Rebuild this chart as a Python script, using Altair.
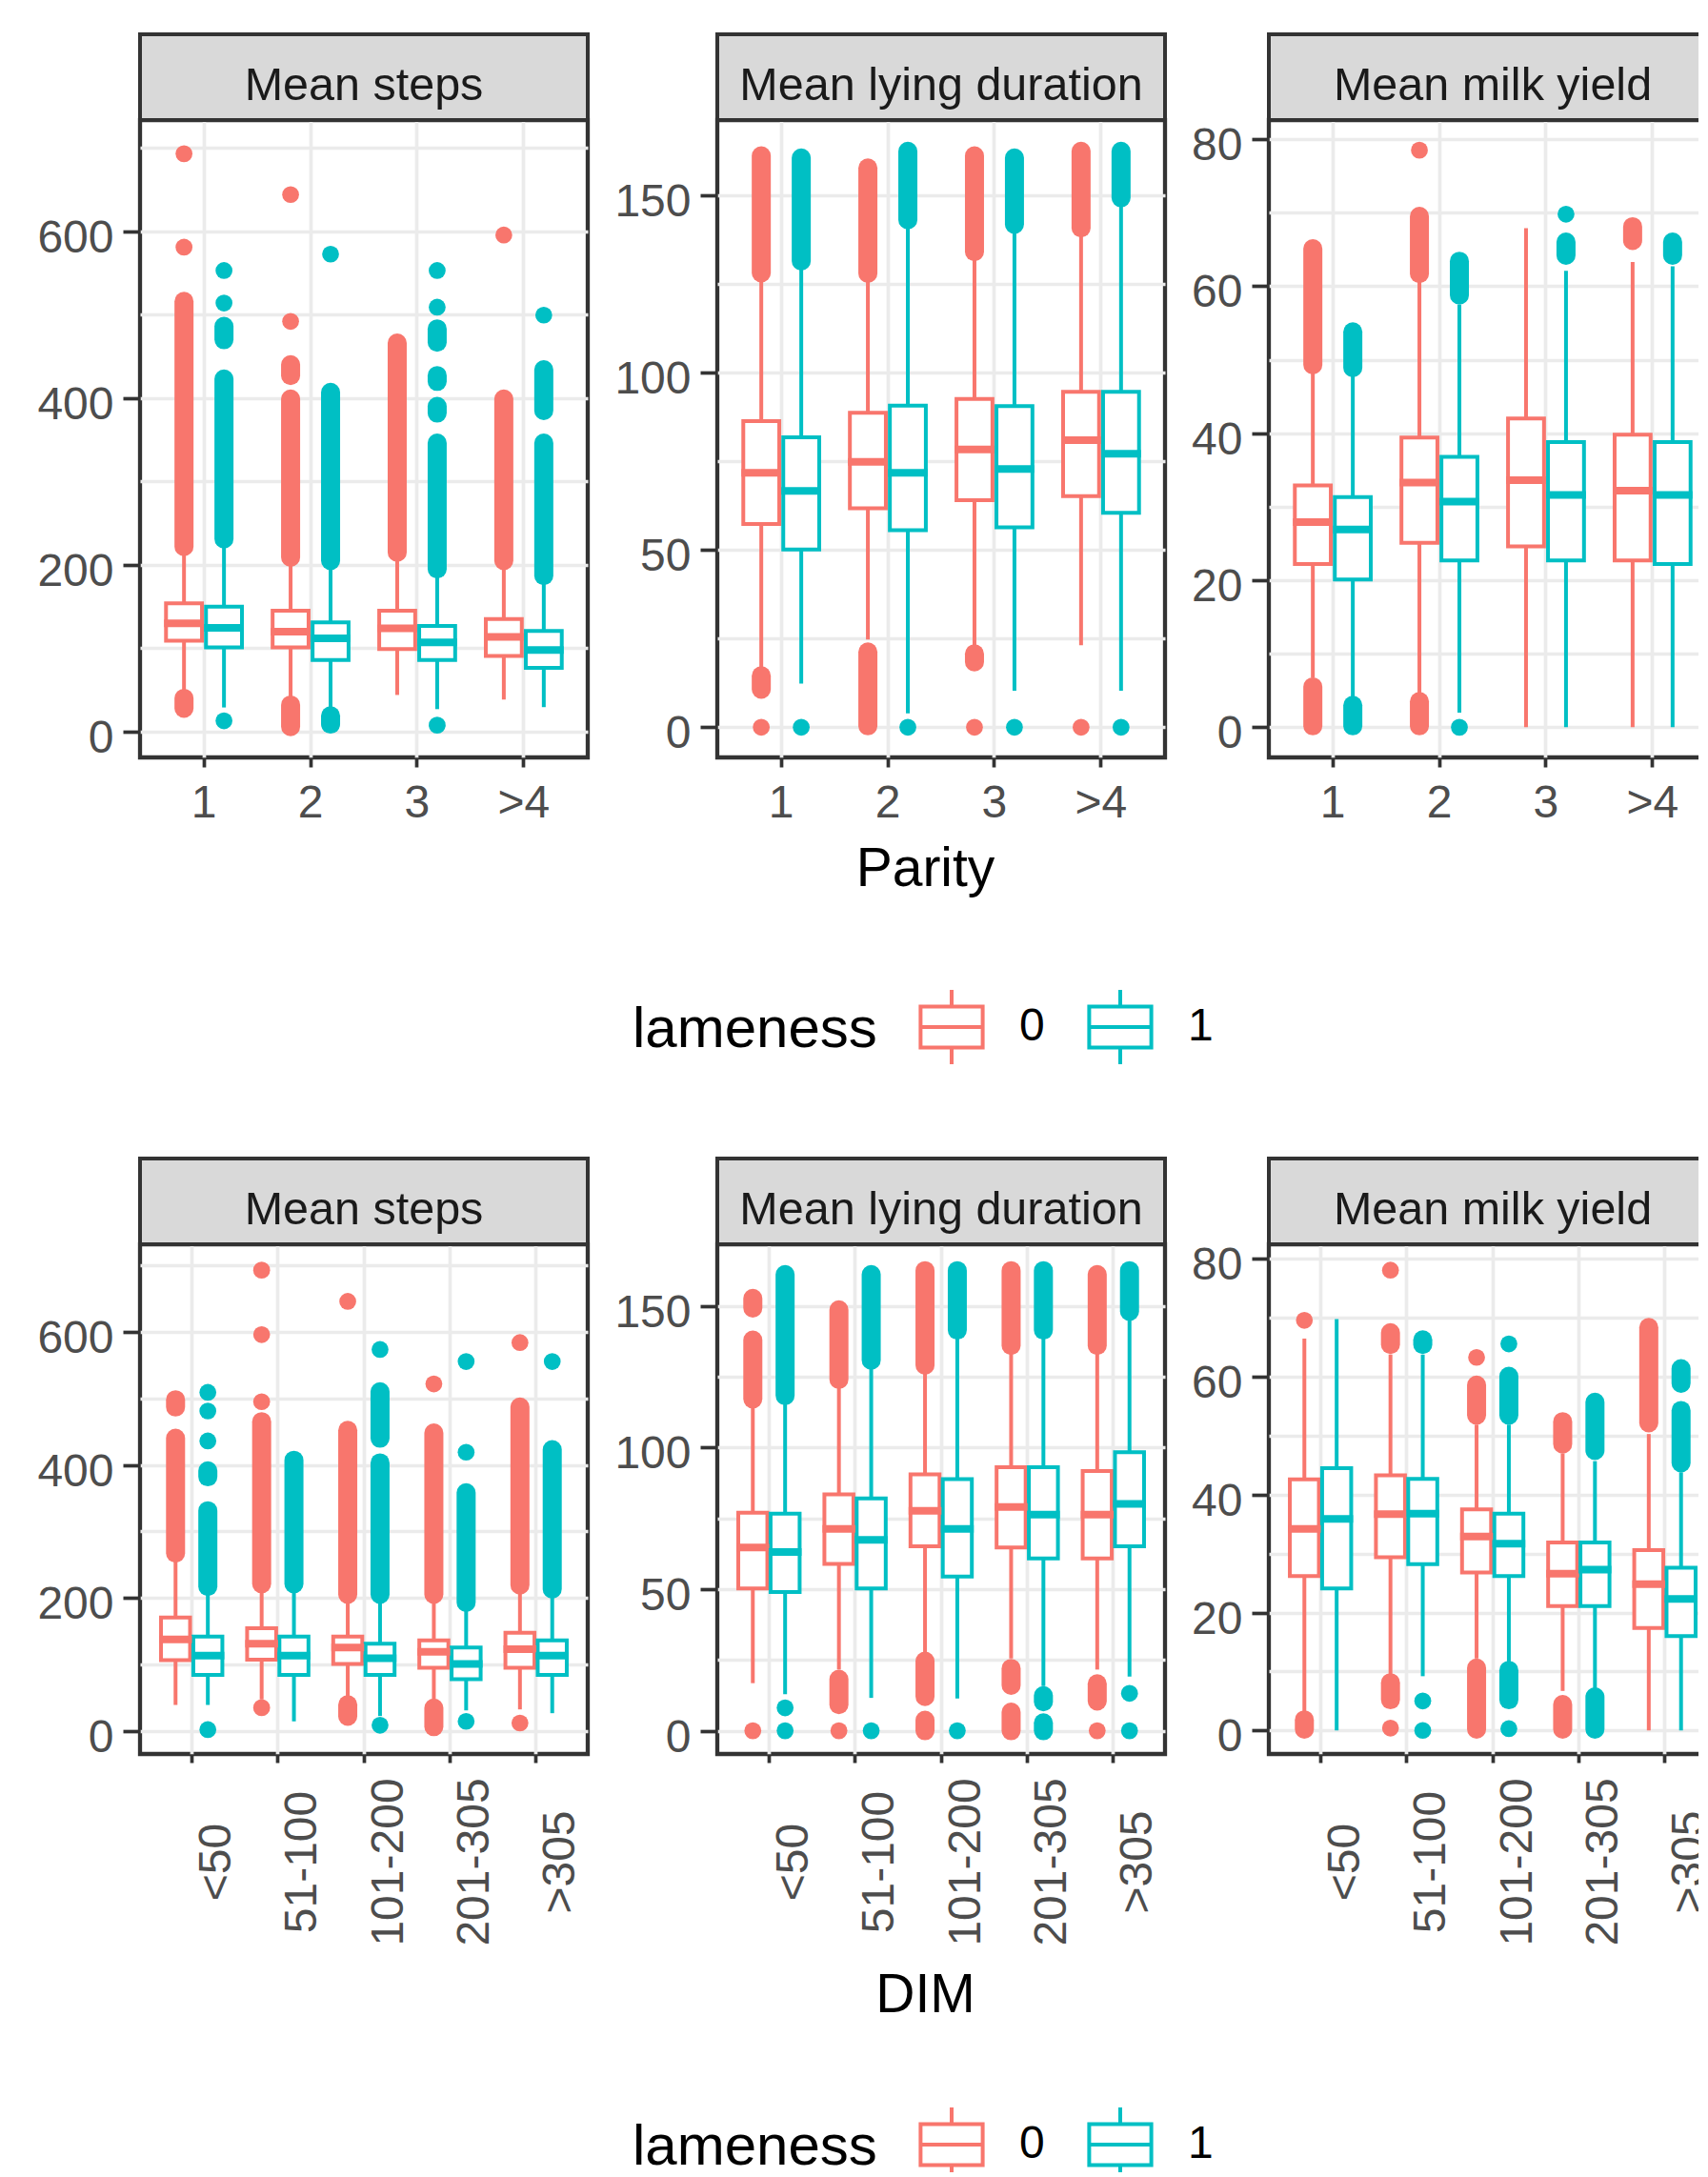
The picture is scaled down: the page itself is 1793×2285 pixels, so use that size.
import altair as alt
import pandas as pd

# ---------------- data ----------------
PARITY = ["1", "2", "3", ">4"]
DIM = ["<50", "51-100", "101-200", "201-305", ">305"]
LAMENESS = ["0", "1"]
COLORS = ["#F8766D", "#00BFC4"]
PANEL_TITLES = ["Mean steps", "Mean lying duration", "Mean milk yield"]

# order of every list: (cat1, lameness 0), (cat1, lameness 1), (cat2, 0), ...
# ---- Parity: Mean steps
PS_LW = [45, 29, 40, 28, 44, 27, 38.5, 29.4]
PS_Q1 = [109, 101, 101, 86, 99, 86, 90.8, 76.4]
PS_MED = [130, 124.6, 120, 112, 124, 107, 113.6, 98]
PS_Q3 = [154, 150, 145, 131, 145, 126.7, 135, 120.8]
PS_UW = [216, 222, 207, 197, 212, 190, 198, 184]
PS_PTS = [[693, 581], [553, 514, 13], [644, 492], [572.6], [], [553, 509, 7.8], [595.5], [499.5]]
PS_RNG = [[[222, 516], [28, 40]], [[470, 486], [231, 423]], [[427, 440], [209, 399], [6, 32]],
          [[205, 407], [9, 19]], [[215, 466]], [[467, 483], [420, 427], [382, 390], [195, 346]],
          [[205, 399]], [[385, 434], [187, 346]]]
# ---- Parity: Mean lying duration
PL_LW = [17, 12.3, 24.7, 3.9, 23.1, 10.3, 23.1, 10.3]
PL_Q1 = [57.3, 50.1, 61.7, 55.5, 64, 56.3, 65.1, 60.4]
PL_MED = [71.7, 66.6, 74.8, 71.7, 78.3, 72.8, 80.9, 77.1]
PL_Q3 = [86.3, 81.7, 88.6, 90.6, 92.5, 90.5, 94.5, 94.5]
PL_UW = [127, 130, 127, 142, 133, 141, 140, 148]
PL_PTS = [[0], [0], [], [0], [0], [0], [0], [0]]
PL_RNG = [[[128, 161], [10.7, 14.5]], [[131.4, 160.4]], [[127.9, 157.6], [0.4, 21.2]], [[143, 162.3]],
          [[134, 161], [18.4, 20.7]], [[141.7, 160.4]], [[140.7, 162.3]], [[149.2, 162.3]]]
# ---- Parity: Mean milk yield
PM_LW = [6.7, 4.1, 4.6, 2, 0, 0, 0, 0]
PM_Q1 = [22.2, 20.1, 25.1, 22.7, 24.6, 22.7, 22.7, 22.2]
PM_MED = [27.9, 26.9, 33.3, 30.7, 33.6, 31.6, 32.2, 31.6]
PM_Q3 = [32.9, 31.3, 39.4, 36.8, 42, 38.8, 39.8, 38.8]
PM_UW = [49, 48, 61, 57.5, 67.9, 62.1, 63.3, 62.7]
PM_PTS = [[], [], [78.5], [0], [], [69.8], [], []]
PM_RNG = [[[49.3, 65.1], [0.2, 5.5]], [[48.9, 53.8], [0.2, 3]], [[61.7, 69.5], [0.2, 3.5]], [[58.8, 63.4]],
          [], [[64.2, 66]], [[66.2, 68.1]], [[64.2, 66]]]

# ---- DIM: Mean steps
DS_LW = [38.7, 38.7, 47, 14, 42, 22, 47, 30.5, 32, 26.3]
DS_Q1 = [106.2, 84, 107, 84, 100.4, 84, 94.6, 77.4, 94.6, 84]
DS_MED = [137.4, 112.8, 131, 112.8, 125, 109, 118.5, 100.4, 122.6, 112.8]
DS_Q3 = [170.4, 141.6, 154, 141.6, 141.6, 131, 135.8, 125, 147.3, 135.8]
DS_UW = [262, 212, 219, 216, 201, 199, 197, 190, 216, 210]
DS_PTS = [[], [509, 481, 436, 1.6], [693, 596, 495, 34.6], [], [646], [573.6, 8.2], [521.8],
          [555.5, 419, 14], [584, 11.5], [555.5]]
DS_RNG = [[[487, 498], [267, 440]], [[382, 391], [217, 331]], [[221, 465]], [[221, 407]],
          [[205, 452], [21.7, 39]], [[440, 510], [205, 403]], [[205, 448], [6, 34]], [[193, 358]],
          [[219, 487]], [[213, 423]]]
# ---- DIM: Mean lying duration
DL_LW = [16.8, 12.9, 21.6, 11.6, 27.5, 11.4, 25.5, 15.8, 21.6, 19.1]
DL_Q1 = [50.2, 49, 58.9, 50.2, 65.1, 54.4, 64.7, 60.8, 60.8, 65.1]
DL_MED = [64.7, 63.1, 71.2, 67.4, 77.6, 71.2, 79, 76.3, 76.3, 80.1]
DL_Q3 = [77, 76.6, 83.4, 82, 90.5, 88.8, 93, 93, 91.7, 98.3]
DL_UW = [116, 117, 123, 129, 128, 140, 135, 140, 135, 147]
DL_PTS = [[0], [8.1, 0], [0], [0], [], [0], [], [], [0], [13.2, 0]]
DL_RNG = [[[149.2, 152.6], [117.1, 137.9]], [[118.3, 161]], [[124, 148.6], [9.2, 18.2]], [[130.8, 161]],
          [[129, 162.4], [12.1, 24.6], [0, 3.7]], [[141.4, 162.4]], [[136, 162.4], [16, 22], [0, 6.6]],
          [[141.4, 162.4], [10.2, 12.4], [0, 2.8]], [[136, 161], [10.5, 16.6]], [[148, 162.4]]]
# ---- DIM: Mean milk yield
DM_LW = [3, 0, 9.5, 9.2, 12.2, 11.3, 6.7, 7.1, 0, 0]
DM_Q1 = [26.2, 24.1, 29.4, 28.2, 26.8, 26.2, 21.1, 21.1, 17.4, 16]
DM_MED = [34.2, 35.9, 36.7, 36.8, 32.9, 31.7, 26.6, 27.3, 24.8, 22.3]
DM_Q3 = [42.6, 44.5, 43.3, 42.7, 37.5, 36.8, 31.9, 31.9, 30.6, 27.6]
DM_UW = [66.5, 69.8, 63.8, 63.8, 51.9, 51.9, 47, 45.7, 50.3, 43.8]
DM_PTS = [[69.6], [], [78.1, 0.4], [5, 0], [63.3], [65.6, 0.3], [], [], [], []]
DM_RNG = [[[0.2, 1.8]], [], [[65.5, 67.5], [5.2, 8.1]], [[65.5, 66.3]], [[53.5, 58.6], [0.2, 10.6]],
          [[53.5, 60.1], [5.2, 10.2]], [[48.6, 52.4], [0.2, 4.4]], [[47.5, 55.7], [0.2, 5.7]],
          [[52.2, 68.4]], [[58.9, 61.4], [45.4, 54.3]]]

# y-axis grid values
STEPS_TICKS = [0, 100, 200, 300, 400, 500, 600, 700]
LYING_TICKS = [0, 25, 50, 75, 100, 125, 150]
MILK_TICKS = [0, 10, 20, 30, 40, 50, 60, 70, 80]

# ---------------- styling ----------------
FONT = "Liberation Sans"
W = 470
H1 = 669
H2 = 535
STRIP = 90
BOX_PATH = ("M-0.836,-0.554 L0.836,-0.554 L0.836,0.554 L-0.836,0.554 Z "
            "M-0.836,0 L0.836,0 M0,-0.554 L0,-1 M0,0.554 L0,1")


def make_legend(ly):
    return alt.Legend(
        title="lameness", orient="none", legendX=517, legendY=ly, direction="horizontal",
        titleOrient="left", titleAnchor="middle", titleBaseline="middle", titleFont=FONT,
        titleFontSize=60, titleFontWeight="normal", titleColor="black", titlePadding=37,
        titleLimit=500, labelFont=FONT, labelFontSize=48, labelColor="black", labelOffset=30,
        columnPadding=38, symbolType=BOX_PATH, symbolSize=6084, symbolStrokeWidth=4,
        symbolFillColor="white", padding=0,
    )


def panel(cats, stats, domain, ticks_all, major, title, height, rotated, xtitle, ly):
    lw, q1, med, q3, uw, pts, rng = stats
    keys = [(c, l) for c in cats for l in LAMENESS]
    cat = [k[0] for k in keys]
    lam = [k[1] for k in keys]
    box = pd.DataFrame({"cat": cat, "lam": lam, "q1": q1, "med": med, "q3": q3})
    whisk = pd.DataFrame({"cat": cat * 2, "lam": lam * 2,
                          "lo": list(lw) + list(q3), "hi": list(q1) + list(uw)})
    points = pd.DataFrame([(c, l, v) for (c, l), vs in zip(keys, pts) for v in vs],
                          columns=["cat", "lam", "v"])
    ranges = pd.DataFrame([(c, l, a, b) for (c, l), rs in zip(keys, rng) for a, b in rs],
                          columns=["cat", "lam", "lo", "hi"])
    n = len(cats)
    step = W / (n + 0.2)
    box_w = 0.375 * step * 0.9

    xs = alt.Scale(type="band", domain=cats, paddingInner=0, paddingOuter=0.1)
    xos = alt.Scale(type="band", domain=LAMENESS, paddingInner=0.1, paddingOuter=0.3833)
    ys = alt.Scale(domain=domain, nice=False, zero=False)

    ax_kw = dict(bandPosition=0.5, grid=True, title=xtitle)
    if xtitle is not None:
        ax_kw["titleX"] = 218
    if rotated:
        xaxis = alt.Axis(labelAngle=-90, labelAlign="center", labelBaseline="middle",
                         labelPadding=104, labelOffset=26.7, tickSize=9, titlePadding=25, **ax_kw)
    else:
        xaxis = alt.Axis(labelAngle=0, labelPadding=14, tickSize=10, titlePadding=17, **ax_kw)
    cond = f"datum.value % {major} === 0"
    yaxis = alt.Axis(title=None, values=ticks_all, labelExpr=f"{cond} ? datum.label : ''",
                     tickOpacity={"condition": {"test": cond, "value": 1}, "value": 0},
                     tickSize=18, labelPadding=10, labelOffset=7.5)

    X = alt.X("cat:N", scale=xs, axis=xaxis)
    XO = alt.XOffset("lam:N", scale=xos)
    # colour of whiskers / outliers / medians (no legend)
    C = alt.Color("lam:N", scale=alt.Scale(range=COLORS), legend=None)
    # colour of the box outlines (carries the legend)
    S = alt.Stroke("lam:N", scale=alt.Scale(domain=LAMENESS, range=COLORS), legend=make_legend(ly))

    def Y(f):
        return alt.Y(f, scale=ys, axis=yaxis)

    tdf = pd.DataFrame({"t": [title]})
    strip = alt.Chart(tdf).mark_rect(fill="#D9D9D9", stroke="#333333", strokeWidth=4).encode(
        x=alt.value(0), x2=alt.value(W), y=alt.value(-STRIP), y2=alt.value(0))
    strip_text = alt.Chart(tdf).mark_text(font=FONT, fontSize=48.5, color="#1A1A1A",
                                          baseline="alphabetic", align="center").encode(
        x=alt.value(W / 2), y=alt.value(-21), text="t:N")
    box_fill = alt.Chart(box).mark_bar(color="white").encode(
        x=X, xOffset=XO, y=Y("q1:Q"), y2="q3:Q")
    box_line = alt.Chart(box).mark_bar(filled=False, strokeWidth=4).encode(
        x=X, xOffset=XO, y=Y("q1:Q"), y2="q3:Q", stroke=S)
    meds = alt.Chart(box).mark_tick(thickness=8, size=box_w + 4, opacity=1).encode(
        x=X, xOffset=XO, y=Y("med:Q"), color=C)
    whiskers = alt.Chart(whisk).mark_rule(strokeWidth=4).encode(
        x=X, xOffset=XO, y=Y("lo:Q"), y2="hi:Q", color=C)
    out_r = alt.Chart(ranges).mark_rule(strokeWidth=20, strokeCap="round").encode(
        x=X, xOffset=XO, y=Y("lo:Q"), y2="hi:Q", color=C)
    out_p = alt.Chart(points).mark_circle(size=314, opacity=1).encode(
        x=X, xOffset=XO, y=Y("v:Q"), color=C)
    return alt.layer(strip, strip_text, box_fill, box_line, meds, whiskers, out_r, out_p).properties(
        width=W, height=height)


row1 = alt.hconcat(
    panel(PARITY, (PS_LW, PS_Q1, PS_MED, PS_Q3, PS_UW, PS_PTS, PS_RNG), [-30.9, 733.4],
          STEPS_TICKS, 200, PANEL_TITLES[0], H1, False, None, 911),
    panel(PARITY, (PL_LW, PL_Q1, PL_MED, PL_Q3, PL_UW, PL_PTS, PL_RNG), [-8.5, 171.1],
          LYING_TICKS, 50, PANEL_TITLES[1], H1, False, "Parity", 911),
    panel(PARITY, (PM_LW, PM_Q1, PM_MED, PM_Q3, PM_UW, PM_PTS, PM_RNG), [-4.1, 82.6],
          MILK_TICKS, 20, PANEL_TITLES[2], H1, False, None, 911),
    spacing=20,
).resolve_scale(xOffset="independent")

row2 = alt.hconcat(
    panel(DIM, (DS_LW, DS_Q1, DS_MED, DS_Q3, DS_UW, DS_PTS, DS_RNG), [-35.1, 731.9],
          STEPS_TICKS, 200, PANEL_TITLES[0], H2, True, None, 904),
    panel(DIM, (DL_LW, DL_Q1, DL_MED, DL_Q3, DL_UW, DL_PTS, DL_RNG), [-8.2, 171.7],
          LYING_TICKS, 50, PANEL_TITLES[1], H2, True, "DIM", 904),
    panel(DIM, (DM_LW, DM_Q1, DM_MED, DM_Q3, DM_UW, DM_PTS, DM_RNG), [-4.0, 82.5],
          MILK_TICKS, 20, PANEL_TITLES[2], H2, True, None, 904),
    spacing=20,
).resolve_scale(xOffset="independent")

chart = alt.vconcat(row1, row2, spacing=86).resolve_scale(
    color="independent", stroke="independent", xOffset="independent"
).properties(
    padding={"left": 28, "top": 23, "right": -24, "bottom": -18}, background="white"
).configure_view(
    stroke="#333333", strokeWidth=4.3
).configure_axis(
    domain=False, gridColor="#EBEBEB", gridWidth=3.7, tickColor="#333333", tickWidth=3.7,
    labelFont=FONT, labelFontSize=48, labelColor="#4D4D4D", titleFont=FONT, titleFontSize=57,
    titleFontWeight="normal", titleColor="black", labelOverlap=False, labelFlush=False,
)

chart.save("out.html", embed_options={"renderer": "svg", "actions": False})
